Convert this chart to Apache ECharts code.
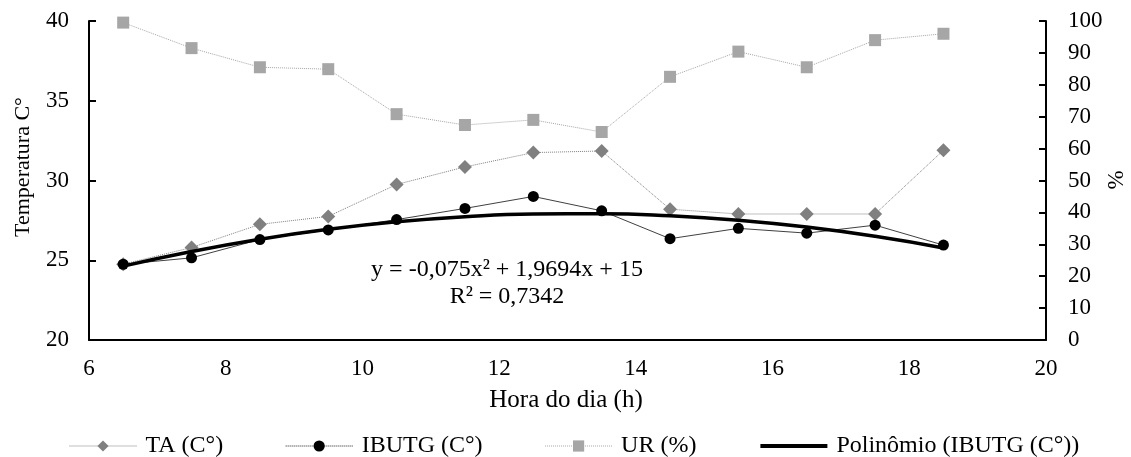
<!DOCTYPE html>
<html>
<head>
<meta charset="utf-8">
<script src="https://cdn.jsdelivr.net/npm/echarts@6/dist/echarts.min.js"></script>
<style>
html,body{margin:0;padding:0;background:#fff;}
#chart{width:1131px;height:457px;}
</style>
</head>
<body>
<div id="chart"></div>
<script>
// Hour of day
const hours = [6.5, 7.5, 8.5, 9.5, 10.5, 11.5, 12.5, 13.5, 14.5, 15.5, 16.5, 17.5, 18.5];
// TA (C°)
const taValues = [24.75, 25.8, 27.25, 27.75, 29.75, 30.85, 31.75, 31.85, 28.2, 27.9, 27.9, 27.9, 31.9];
// IBUTG (C°)
const ibutgValues = [24.75, 25.15, 26.3, 26.9, 27.55, 28.25, 29.0, 28.1, 26.35, 27.0, 26.7, 27.2, 25.95];
// UR (%)
const urValues = [99.5, 91.5, 85.5, 84.9, 70.8, 67.4, 69.0, 65.2, 82.5, 90.4, 85.5, 94.0, 96.0];
// Polinômio (IBUTG (C°)) trendline values read at each hour
const trendValues = [24.63, 25.55, 26.32, 26.94, 27.41, 27.73, 27.90, 27.92, 27.79, 27.51, 27.08, 26.50, 25.77];

const xTicks = {min: 6, max: 20, interval: 2};
const leftTicks = {min: 20, max: 40, interval: 5};
const rightTicks = {min: 0, max: 100, interval: 10};

const legendNames = ['TA (C°)', 'IBUTG (C°)', 'UR (%)', 'Polinômio (IBUTG (C°))'];
const xTitle = 'Hora do dia (h)';
const yLeftTitle = 'Temperatura C°';
const yRightTitle = '%';
const eqLine1 = 'y = -0,075x² + 1,9694x + 15';
const eqLine2 = 'R² = 0,7342';

const pair = (ys) => hours.map((h, i) => [h, ys[i]]);
const FONT = 'Liberation Serif';

const chart = echarts.init(document.getElementById('chart'), null, {renderer: 'canvas'});

const axisCommon = {
  axisLine: {show: true, lineStyle: {color: '#000', width: 2}},
  splitLine: {show: false},
  axisLabel: {color: '#000', fontFamily: FONT, fontSize: 23}
};

const seriesLineStyles = [
  {color: '#7f7f7f', width: 1, type: 'dotted'},
  {color: '#404040', width: 1, type: 'solid'},
  {color: '#a6a6a6', width: 1, type: 'dotted'},
  {color: '#000', width: 3.5, type: 'solid'}
];
const legendLineStyles = [
  {color: '#7f7f7f', width: 1, type: 'dotted'},
  {color: '#202020', width: 1, type: 'dotted'},
  {color: '#a6a6a6', width: 1, type: 'dotted'},
  {color: '#000', width: 4, type: 'solid'}
];

chart.setOption({
  backgroundColor: '#fff',
  animation: false,
  grid: {left: 89, right: 85, top: 21, bottom: 117, containLabel: false},
  xAxis: Object.assign({}, axisCommon, {
    type: 'value', min: xTicks.min, max: xTicks.max, interval: xTicks.interval,
    axisTick: {show: false},
    axisLabel: Object.assign({}, axisCommon.axisLabel, {margin: 17})
  }),
  yAxis: [
    Object.assign({}, axisCommon, {
      type: 'value', position: 'left', min: leftTicks.min, max: leftTicks.max, interval: leftTicks.interval,
      axisTick: {show: true, inside: true, length: 7, lineStyle: {color: '#000', width: 2}},
      axisLabel: Object.assign({}, axisCommon.axisLabel, {margin: 20})
    }),
    Object.assign({}, axisCommon, {
      type: 'value', position: 'right', min: rightTicks.min, max: rightTicks.max, interval: rightTicks.interval,
      axisTick: {show: true, inside: true, length: 7, lineStyle: {color: '#000', width: 2}},
      axisLabel: Object.assign({}, axisCommon.axisLabel, {margin: 22})
    })
  ],
  legend: {
    data: legendNames.map((n, i) => ({name: n, lineStyle: legendLineStyles[i]})),
    left: 64, top: 429,
    itemWidth: 67, itemHeight: 14, itemGap: 62,
    textStyle: {color: '#000', fontFamily: FONT, fontSize: 24, padding: [0, 0, 0, 4]}
  },
  graphic: [
    {type: 'text', x: 566, y: 400, style: {text: xTitle, fill: '#000', font: '25px "' + FONT + '"', textAlign: 'center', textVerticalAlign: 'middle'}},
    {type: 'text', x: 23, y: 167, rotation: Math.PI / 2, style: {text: yLeftTitle, fill: '#000', font: '22px "' + FONT + '"', textAlign: 'center', textVerticalAlign: 'middle'}},
    {type: 'text', x: 1117, y: 180, rotation: Math.PI / 2, style: {text: yRightTitle, fill: '#000', font: '23px "' + FONT + '"', textAlign: 'center', textVerticalAlign: 'middle'}},
    {type: 'text', x: 507, y: 270, style: {text: eqLine1, fill: '#000', font: '24px "' + FONT + '"', textAlign: 'center', textVerticalAlign: 'middle'}},
    {type: 'text', x: 507, y: 297, style: {text: eqLine2, fill: '#000', font: '24px "' + FONT + '"', textAlign: 'center', textVerticalAlign: 'middle'}}
  ],
  series: [
    {
      name: legendNames[0], type: 'line', yAxisIndex: 0, data: pair(taValues),
      symbol: 'diamond', symbolSize: 14,
      itemStyle: {color: '#808080'},
      lineStyle: seriesLineStyles[0], z: 3
    },
    {
      name: legendNames[1], type: 'line', yAxisIndex: 0, data: pair(ibutgValues),
      symbol: 'circle', symbolSize: 11,
      itemStyle: {color: '#000'},
      lineStyle: seriesLineStyles[1], z: 4
    },
    {
      name: legendNames[2], type: 'line', yAxisIndex: 1, data: pair(urValues),
      symbol: 'rect', symbolSize: 12,
      itemStyle: {color: '#a6a6a6'},
      lineStyle: seriesLineStyles[2], z: 2
    },
    {
      name: legendNames[3], type: 'line', yAxisIndex: 0, data: pair(trendValues),
      symbol: 'none', smooth: true,
      itemStyle: {color: '#000', opacity: 0},
      lineStyle: seriesLineStyles[3], z: 5
    }
  ]
});
</script>
</body>
</html>
